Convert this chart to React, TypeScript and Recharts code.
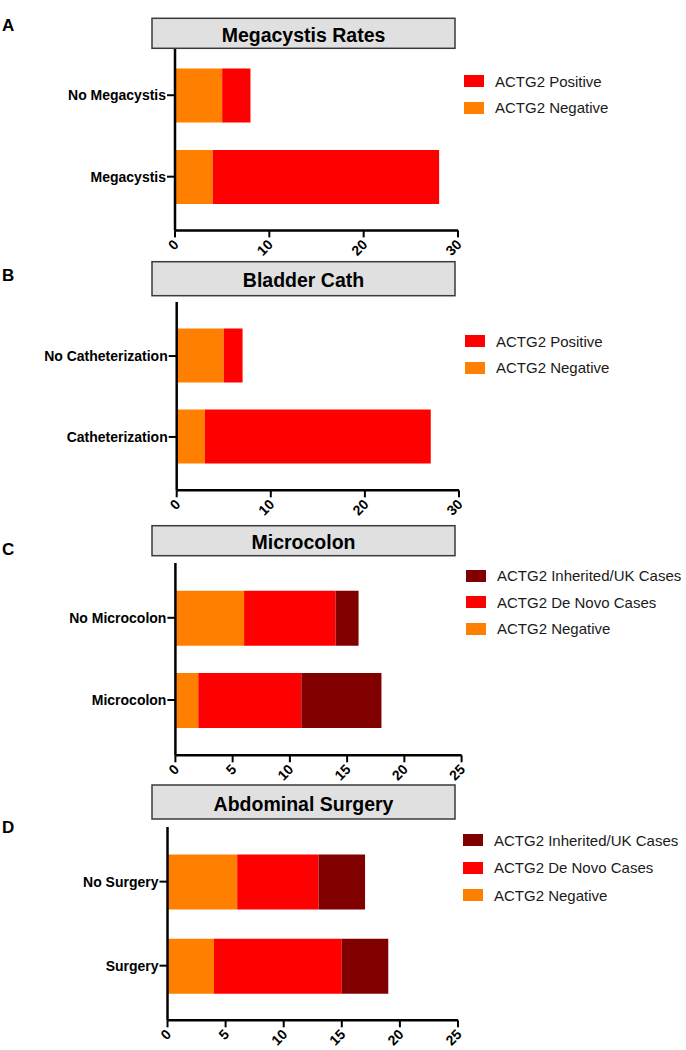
import { BarChart, Bar, XAxis, YAxis, Legend } from 'recharts';

const FONT = '"Liberation Sans", Arial, Helvetica, sans-serif';

// series names
const NEGATIVE = 'ACTG2 Negative';
const POSITIVE = 'ACTG2 Positive';
const DE_NOVO = 'ACTG2 De Novo Cases';
const INHERITED = 'ACTG2 Inherited/UK Cases';

// A - megacystis
const megaCategories = ['No Megacystis', 'Megacystis'];
const megaNegative = [5, 4];
const megaPositive = [3, 24];

// B - bladder cath
const cathCategories = ['No Catheterization', 'Catheterization'];
const cathNegative = [5, 3];
const cathPositive = [2, 24];

// C - microcolon
const colonCategories = ['No Microcolon', 'Microcolon'];
const colonNegative = [6, 2];
const colonDeNovo = [8, 9];
const colonInherited = [2, 7];

// D - abdominal surgery
const surgeryCategories = ['No Surgery', 'Surgery'];
const surgeryNegative = [6, 4];
const surgeryDeNovo = [7, 11];
const surgeryInherited = [4, 4];

const ticks30 = [0, 10, 20, 30];
const ticks25 = [0, 5, 10, 15, 20, 25];

const COLORS: Record<string, string> = {
  [NEGATIVE]: '#ff8000',
  [POSITIVE]: '#ff0000',
  [DE_NOVO]: '#ff0000',
  [INHERITED]: '#800000',
};

type Geometry = {
  plotTop: number;
  plotBottom: number;
  plotLeft: number;
  plotRight: number;
  padTop: number;
  padBottom: number;
  barSize: number;
  boxTop: number;
  boxBottom: number;
  letterBaseline: number;
  legendTop: number;
  legendLeft: number;
  legendRow: number;
};

type PanelProps = {
  letter: string;
  title: string;
  categories: string[];
  series: { name: string; values: number[] }[];
  legendOrder: string[];
  ticks: number[];
  geo: Geometry;
};

function XTick({ x, y, payload }: any) {
  const ax = x + 4.5;
  const ay = y + 6;
  return (
    <text
      x={ax}
      y={ay}
      transform={`rotate(-45, ${ax}, ${ay})`}
      textAnchor="end"
      fontFamily={FONT}
      fontWeight={700}
      fontSize={14}
      fill="#000"
    >
      {payload.value}
    </text>
  );
}

function Panel({ letter, title, categories, series, legendOrder, ticks, geo }: PanelProps) {
  const rows = categories.map((name, i) => {
    const row: Record<string, string | number> = { name };
    series.forEach((s) => {
      row[s.name] = s.values[i];
    });
    return row;
  });

  const top = geo.plotTop - 10;
  const height = geo.plotBottom - geo.plotTop + 10 + 36;

  const renderLegend = (props: any) => {
    const items = legendOrder
      .map((n) => (props.payload || []).find((p: any) => p.value === n))
      .filter(Boolean);
    return (
      <div style={{ fontFamily: FONT, fontSize: 15, color: '#1a1a1a', whiteSpace: 'nowrap' }}>
        {items.map((it: any) => (
          <div key={it.value} style={{ height: geo.legendRow, display: 'flex', alignItems: 'center' }}>
            <span style={{ display: 'inline-block', width: 20, height: 12, background: it.color, marginRight: 11 }} />
            <span>{it.value}</span>
          </div>
        ))}
      </div>
    );
  };

  return (
    <>
      <div style={{ position: 'absolute', left: 0, top }}>
        <BarChart
          width={686}
          height={height}
          data={rows}
          layout="vertical"
          margin={{ top: 10, right: 686 - geo.plotRight, bottom: 0, left: 0 }}
        >
          <XAxis
            type="number"
            domain={[0, ticks[ticks.length - 1]]}
            ticks={ticks}
            height={36}
            axisLine={{ stroke: '#000', strokeWidth: 2.5 }}
            tickLine={{ stroke: '#000', strokeWidth: 2 }}
            tickSize={7}
            tickMargin={2}
            tick={<XTick />}
            interval={0}
          />
          <YAxis
            type="category"
            dataKey="name"
            width={geo.plotLeft}
            padding={{ top: geo.padTop, bottom: geo.padBottom }}
            axisLine={{ stroke: '#000', strokeWidth: 2.5 }}
            tickLine={{ stroke: '#000', strokeWidth: 2 }}
            tickSize={8}
            tickMargin={1}
            tick={{ fill: '#000', fontSize: 14, fontWeight: 700, fontFamily: FONT }}
            interval={0}
          />
          <Legend
            layout="vertical"
            align="center"
            verticalAlign="middle"
            content={renderLegend}
            wrapperStyle={{ left: geo.legendLeft, top: geo.legendTop - top, width: 'auto', height: 'auto' }}
          />
          {series.map((s) => (
            <Bar
              key={s.name}
              dataKey={s.name}
              name={s.name}
              stackId="a"
              fill={COLORS[s.name]}
              barSize={geo.barSize}
              isAnimationActive={false}
            />
          ))}
        </BarChart>
      </div>
      <svg
        width={686}
        height={geo.boxBottom + 2}
        style={{ position: 'absolute', left: 0, top: 0, pointerEvents: 'none', overflow: 'visible' }}
      >
        <text x={2} y={geo.letterBaseline} fontFamily={FONT} fontWeight={700} fontSize={17} fill="#000">
          {letter}
        </text>
        <rect
          x={152}
          y={geo.boxTop}
          width={303}
          height={geo.boxBottom - geo.boxTop}
          fill="#e0e0e0"
          stroke="#3a3a3a"
          strokeWidth={1.5}
        />
        <text
          x={303.5}
          y={(geo.boxTop + geo.boxBottom) / 2 + 8.5}
          textAnchor="middle"
          fontFamily={FONT}
          fontWeight={700}
          fontSize={19.5}
          fill="#000"
        >
          {title}
        </text>
      </svg>
    </>
  );
}

export default function App() {
  return (
    <div style={{ position: 'absolute', left: 0, top: 0, width: 686, height: 1050, background: '#fff', overflow: 'hidden' }}>
      <Panel
        letter="A"
        title="Megacystis Rates"
        categories={megaCategories}
        series={[
          { name: NEGATIVE, values: megaNegative },
          { name: POSITIVE, values: megaPositive },
        ]}
        legendOrder={[POSITIVE, NEGATIVE]}
        ticks={ticks30}
        geo={{
          plotTop: 49.3, plotBottom: 230.7, plotLeft: 175, plotRight: 458,
          padTop: 5.5, padBottom: 13, barSize: 54,
          boxTop: 18.3, boxBottom: 48.3, letterBaseline: 30.7,
          legendTop: 67.8, legendLeft: 464, legendRow: 26.7,
        }}
      />
      <Panel
        letter="B"
        title="Bladder Cath"
        categories={cathCategories}
        series={[
          { name: NEGATIVE, values: cathNegative },
          { name: POSITIVE, values: cathPositive },
        ]}
        legendOrder={[POSITIVE, NEGATIVE]}
        ticks={ticks30}
        geo={{
          plotTop: 301.7, plotBottom: 490, plotLeft: 176.7, plotRight: 459,
          padTop: 13.6, padBottom: 12.9, barSize: 54,
          boxTop: 261.7, boxBottom: 295.7, letterBaseline: 280.7,
          legendTop: 328, legendLeft: 465, legendRow: 26.5,
        }}
      />
      <Panel
        letter="C"
        title="Microcolon"
        categories={colonCategories}
        series={[
          { name: NEGATIVE, values: colonNegative },
          { name: DE_NOVO, values: colonDeNovo },
          { name: INHERITED, values: colonInherited },
        ]}
        legendOrder={[INHERITED, DE_NOVO, NEGATIVE]}
        ticks={ticks25}
        geo={{
          plotTop: 562.7, plotBottom: 755, plotLeft: 175.4, plotRight: 461.6,
          padTop: 13.7, padBottom: 14.2, barSize: 55,
          boxTop: 525.7, boxBottom: 555.7, letterBaseline: 554.8,
          legendTop: 562.7, legendLeft: 466, legendRow: 26.5,
        }}
      />
      <Panel
        letter="D"
        title="Abdominal Surgery"
        categories={surgeryCategories}
        series={[
          { name: NEGATIVE, values: surgeryNegative },
          { name: DE_NOVO, values: surgeryDeNovo },
          { name: INHERITED, values: surgeryInherited },
        ]}
        legendOrder={[INHERITED, DE_NOVO, NEGATIVE]}
        ticks={ticks25}
        geo={{
          plotTop: 826.7, plotBottom: 1020, plotLeft: 167.5, plotRight: 458,
          padTop: 12.6, padBottom: 12.6, barSize: 55,
          boxTop: 785, boxBottom: 819, letterBaseline: 833.3,
          legendTop: 826.3, legendLeft: 463, legendRow: 27.5,
        }}
      />
    </div>
  );
}
